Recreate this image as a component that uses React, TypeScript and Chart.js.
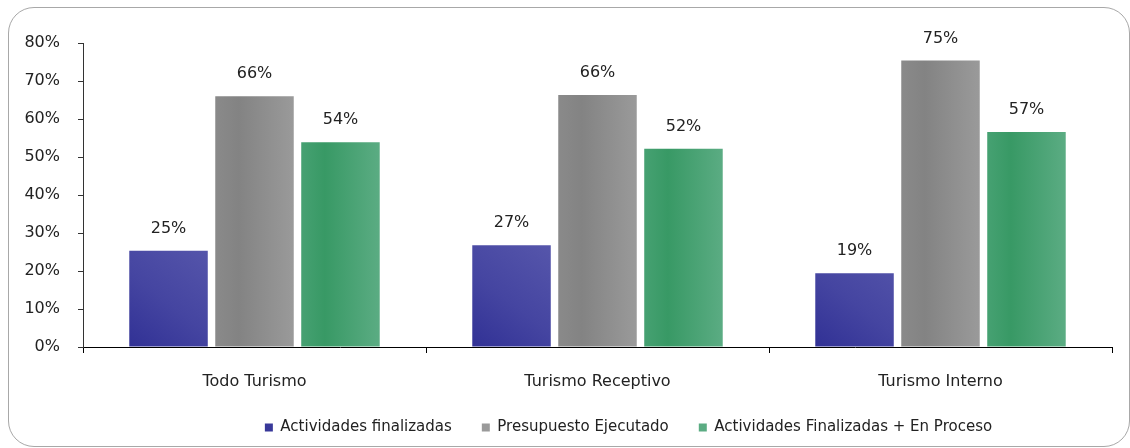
import React, { useEffect, useRef } from 'react';
import { Chart, registerables } from 'chart.js';

Chart.register(...registerables);

const categories = ['Todo Turismo', 'Turismo Receptivo', 'Turismo Interno'];
const seriesNames = [
  'Actividades finalizadas',
  'Presupuesto Ejecutado',
  'Actividades Finalizadas + En Proceso',
];
const actividadesFinalizadas = [25.3, 26.8, 19.4];
const presupuestoEjecutado = [66.0, 66.3, 75.4];
const finalizadasEnProceso = [53.9, 52.2, 56.6];
const yMin = 0;
const yMax = 80;
const yStep = 10;

const FONT = '"DejaVu Sans", Verdana, sans-serif';
const TEXT = '#222222';

type Stops = [number, string][];
const blueStops: Stops = [[0, '#313195'], [0.45, '#4545a1'], [1, '#5656ab']];
const grayStops: Stops = [[0, '#8a8a8a'], [0.3, '#838383'], [1, '#9a9a9a']];
const greenStops: Stops = [[0, '#46a172'], [0.3, '#389965'], [1, '#5bac83']];
const solid = ['#4a4aa6', '#9a9a9a', '#4aa577'];

function makeFill(stops: Stops, idx: number, diagonal: boolean) {
  return (c: any) => {
    if (c.type !== 'data') return solid[idx];
    const meta = c.chart.getDatasetMeta(c.datasetIndex);
    const el: any = meta && meta.data ? meta.data[c.dataIndex] : null;
    if (!el || el.x === undefined || el.width === undefined || isNaN(el.x)) return solid[idx];
    const left = el.x - el.width / 2;
    const right = el.x + el.width / 2;
    const base = el.base;
    const g = diagonal
      ? c.chart.ctx.createLinearGradient(left, base, right, base - el.width * 1.3)
      : c.chart.ctx.createLinearGradient(left, 0, right, 0);
    stops.forEach(([o, col]) => g.addColorStop(o, col));
    return g;
  };
}

const valueLabels = {
  id: 'valueLabels',
  afterDatasetsDraw(chart: any) {
    const ctx = chart.ctx;
    ctx.save();
    ctx.font = `16px ${FONT}`;
    ctx.fillStyle = TEXT;
    ctx.textAlign = 'center';
    ctx.textBaseline = 'middle';
    chart.data.datasets.forEach((ds: any, di: number) => {
      const meta = chart.getDatasetMeta(di);
      meta.data.forEach((el: any, i: number) => {
        const v = ds.data[i];
        ctx.fillText(Math.round(v) + '%', el.x, el.y - 22);
      });
    });
    ctx.restore();
  },
};

const legendShift = {
  id: 'legendShift',
  afterLayout(chart: any) {
    const l = chart.legend;
    if (!l) return;
    const desired = 628.5;
    const shift = desired - (l.left + l.right) / 2;
    l.left += shift;
    l.right += shift;
  },
};

export default function App() {
  const ref = useRef<HTMLCanvasElement | null>(null);

  useEffect(() => {
    if (!ref.current) return;
    const chart = new Chart(ref.current, {
      type: 'bar',
      data: {
        labels: categories,
        datasets: [
          {
            label: seriesNames[0],
            data: actividadesFinalizadas,
            backgroundColor: makeFill(blueStops, 0, true),
          },
          {
            label: seriesNames[1],
            data: presupuestoEjecutado,
            backgroundColor: makeFill(grayStops, 1, false),
          },
          {
            label: seriesNames[2],
            data: finalizadasEnProceso,
            backgroundColor: makeFill(greenStops, 2, false),
          },
        ],
      },
      options: {
        animation: false,
        responsive: false,
        maintainAspectRatio: false,
        datasets: {
          bar: {
            categoryPercentage: 0.752,
            barPercentage: 0.913,
            borderWidth: 0,
          },
        },
        layout: { padding: { left: 0, right: 18, top: 43, bottom: 3 } },
        plugins: {
          title: { display: false },
          tooltip: { enabled: false },
          legend: {
            position: 'bottom',
            labels: {
              boxWidth: 8,
              boxHeight: 8,
              padding: 30,
              color: TEXT,
              font: { family: FONT, size: 15 },
            },
          },
        },
        scales: {
          x: {
            offset: true,
            afterFit: (s: any) => {
              s.height = 43;
            },
            grid: {
              offset: true,
              drawOnChartArea: false,
              drawTicks: true,
              tickLength: 6,
              color: '#000000',
            },
            border: { display: true, color: '#000000', width: 1 },
            ticks: {
              color: TEXT,
              padding: 19,
              font: { family: FONT, size: 16 },
            },
          },
          y: {
            min: yMin,
            max: yMax,
            afterFit: (s: any) => {
              s.width = 83;
            },
            grid: {
              drawOnChartArea: false,
              drawTicks: true,
              tickLength: 5,
              color: '#333333',
            },
            border: { display: true, color: '#333333', width: 1 },
            ticks: {
              stepSize: yStep,
              color: TEXT,
              padding: 18,
              font: { family: FONT, size: 16 },
              callback: (v: any) => v + '%',
            },
          },
        },
      },
      plugins: [valueLabels, legendShift],
    });
    chart.update();
    return () => chart.destroy();
  }, []);

  return (
    <div style={{ position: 'fixed', left: 0, top: 0, width: 1130, height: 448, background: '#ffffff' }}>
      <div
        style={{
          position: 'absolute',
          left: 8,
          top: 7,
          width: 1122,
          height: 440,
          boxSizing: 'border-box',
          border: '1px solid #a8a8a8',
          borderRadius: 26,
        }}
      />
      <canvas
        ref={ref}
        width={1130}
        height={448}
        style={{ position: 'absolute', left: 0, top: 0, width: 1130, height: 448 }}
      />
    </div>
  );
}
